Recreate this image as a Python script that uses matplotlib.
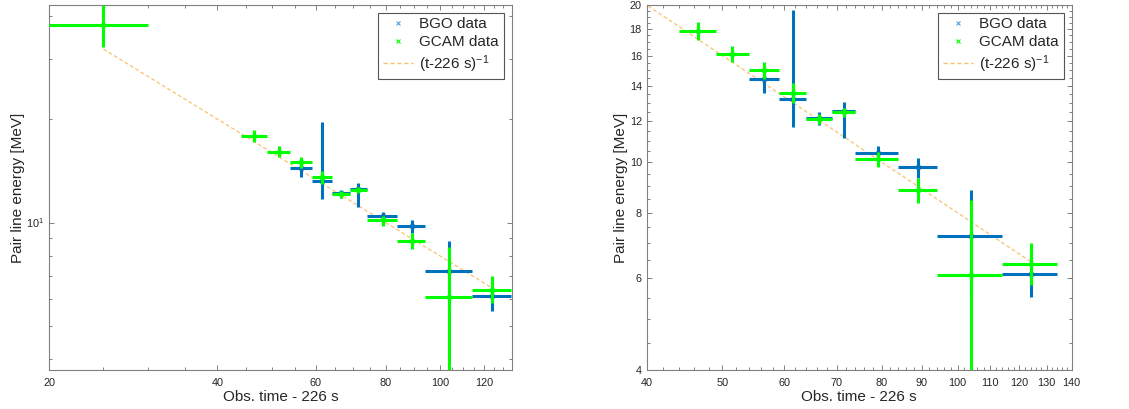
import numpy as np
import matplotlib
matplotlib.use("Agg")
import matplotlib.pyplot as plt
from matplotlib.lines import Line2D
from matplotlib.ticker import FixedLocator, NullFormatter, FixedFormatter, LogFormatterSciNotation

plt.rcParams['font.family'] = ['Liberation Sans', 'DejaVu Sans']
plt.rcParams['mathtext.default'] = 'regular'

# ---------------- data (time after 226 s, energies in MeV) ----------------
gcam_t = [25, 46.5, 51.5, 56.5, 61.5, 66.5, 71.5, 79, 89, 104, 124]
gcam_t_lo = [20, 44, 49, 54, 59, 64, 69, 74, 84, 94, 114]
gcam_t_hi = [30, 49, 54, 59, 64, 69, 74, 84, 94, 114, 134]
gcam_E = [37.6, 17.86, 16.1, 15.02, 13.55, 12.08, 12.45, 10.16, 8.86, 6.08, 6.37]
gcam_E_hi = [43.0, 18.59, 16.69, 15.55, 14.15, 12.35, 12.68, 10.48, 9.31, 8.47, 6.99]
gcam_E_lo = [32.4, 17.11, 15.53, 14.45, 12.96, 11.82, 12.22, 9.80, 8.37, 3.72, 5.82]

bgo_t = [56.5, 61.5, 66.5, 71.5, 79, 89, 104, 124]
bgo_t_lo = [54, 59, 64, 69, 74, 84, 94, 114]
bgo_t_hi = [59, 64, 69, 74, 84, 94, 114, 134]
bgo_E = [14.41, 13.23, 12.15, 12.55, 10.42, 9.78, 7.22, 6.11]
bgo_E_hi = [15.13, 19.56, 12.45, 13.06, 10.74, 10.17, 8.85, 6.7]
bgo_E_lo = [13.55, 11.7, 11.78, 11.11, 9.95, 9.31, 5.6, 5.52]

fit_norm = 800.0  # E = fit_norm / (t - 226 s)

BLUE = '#0072BD'
GREEN = '#00FF00'
ORANGE = '#F6C46C'
TXT = '#262626'
SPINE = '#808080'

fig = plt.figure(figsize=(11.29, 4.09), dpi=100)
W, H = 1129, 409
ax1 = fig.add_axes([49.3 / W, 1 - 370 / H, 462.4 / W, 365 / H])
ax2 = fig.add_axes([646.7 / W, 1 - 370 / H, 425 / W, 365 / H])


def draw(ax):
    bt = np.array(bgo_t)
    be = np.array(bgo_E)
    ax.errorbar(bt, be,
                xerr=[bt - np.array(bgo_t_lo), np.array(bgo_t_hi) - bt],
                yerr=[be - np.array(bgo_E_lo), np.array(bgo_E_hi) - be],
                fmt='x', color=BLUE, ms=3, mew=1, elinewidth=2.2, capsize=0, zorder=3)
    gt = np.array(gcam_t)
    ge = np.array(gcam_E)
    ax.errorbar(gt, ge,
                xerr=[gt - np.array(gcam_t_lo), np.array(gcam_t_hi) - gt],
                yerr=[ge - np.array(gcam_E_lo), np.array(gcam_E_hi) - ge],
                fmt='x', color=GREEN, ms=3, mew=1, elinewidth=2.2, capsize=0, zorder=4)
    ft = gt
    ax.plot(ft, fit_norm / ft, linestyle=(0, (3, 2)), color=ORANGE, lw=0.9, zorder=2)
    ax.set_xscale('log')
    ax.set_yscale('log')
    for s in ax.spines.values():
        s.set_color(SPINE)
        s.set_linewidth(0.8)
    ax.tick_params(which='both', direction='in', top=True, right=True,
                   colors=SPINE, labelcolor=TXT, labelsize=7.8, width=0.7)
    ax.tick_params(which='major', length=3.5)
    ax.tick_params(which='minor', length=2.2)
    ax.tick_params(axis='x', which='both', pad=6)
    ax.tick_params(axis='y', which='both', pad=3.5)
    ax.set_xlabel('Obs. time - 226 s', fontsize=11, color=TXT, labelpad=1.5)
    ax.set_ylabel('Pair line energy [MeV]', fontsize=11, color=TXT, labelpad=1)
    handles = [
        Line2D([], [], marker='x', ls='none', color='#5aa0d8', ms=3.5, mew=0.8),
        Line2D([], [], marker='x', ls='none', color=GREEN, ms=3.5, mew=0.8),
        Line2D([], [], ls=(0, (3, 2)), color=ORANGE, lw=1.0),
    ]
    labels = ['BGO data', 'GCAM data', '(t-226 s)$^{-1}$']
    leg = ax.legend(handles, labels, loc='upper right', fontsize=11,
                    bbox_to_anchor=(1 - 8 / ax.bbox.width, 1 - 7.7 / 365),
                    borderaxespad=0, fancybox=False, framealpha=1,
                    edgecolor='#555555', handlelength=2.0, handletextpad=0.4,
                    labelspacing=0.25, borderpad=0.3)
    leg.get_frame().set_linewidth(0.8)
    for t in leg.get_texts():
        t.set_color(TXT)


draw(ax1)
draw(ax2)

# left panel axes
ax1.set_xlim(20, 134.5)
ax1.set_ylim(3.72, 43.0)
ax1.xaxis.set_major_locator(FixedLocator([20, 40, 60, 80, 100, 120]))
ax1.xaxis.set_major_formatter(FixedFormatter(['20', '40', '60', '80', '100', '120']))
ax1.xaxis.set_minor_locator(FixedLocator(list(range(25, 135, 5))))
ax1.xaxis.set_minor_formatter(NullFormatter())
ax1.yaxis.set_major_locator(FixedLocator([10]))
ax1.yaxis.set_major_formatter(LogFormatterSciNotation())
ax1.yaxis.set_minor_locator(FixedLocator([4, 5, 6, 7, 8, 9, 20, 30, 40]))
ax1.yaxis.set_minor_formatter(NullFormatter())

# right panel axes
ax2.set_xlim(40, 140)
ax2.set_ylim(4, 20)
xt = list(range(40, 150, 10))
ax2.xaxis.set_major_locator(FixedLocator(xt))
ax2.xaxis.set_major_formatter(FixedFormatter([str(v) for v in xt]))
ax2.xaxis.set_minor_locator(FixedLocator(list(range(42, 140, 2))))
ax2.xaxis.set_minor_formatter(NullFormatter())
yt = list(range(4, 22, 2))
ax2.yaxis.set_major_locator(FixedLocator(yt))
ax2.yaxis.set_major_formatter(FixedFormatter([str(v) for v in yt]))
ax2.yaxis.set_minor_locator(FixedLocator(list(np.arange(4.5, 20, 0.5))))
ax2.yaxis.set_minor_formatter(NullFormatter())

fig.savefig('out.png', dpi=100, facecolor='white')
